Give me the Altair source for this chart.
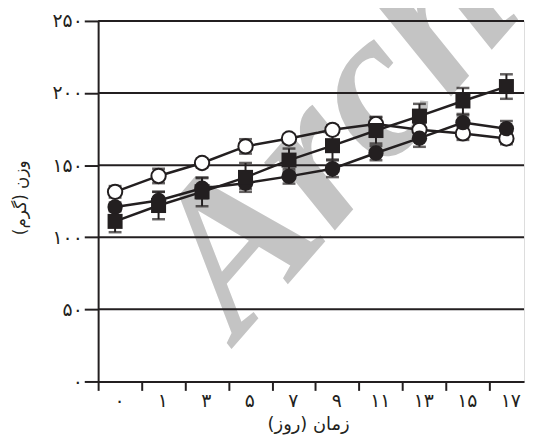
import json
import altair as alt
import pandas as pd

# ---------------- data ----------------
day_labels = ["۰", "۱", "۳", "۵", "۷", "۹", "۱۱", "۱۳", "۱۵", "۱۷"]
y_tick_values = [0, 50, 100, 150, 200, 250]
y_tick_labels = ["۰", "۵۰", "۱۰۰", "۱۵۰", "۲۰۰", "۲۵۰"]

open_mean = [131.5, 142.5, 151.5, 163.0, 168.5, 174.5, 178.5, 174.5, 172.0, 168.5]
open_err = [4.0, 5.0, 3.0, 5.0, 3.0, 3.0, 5.0, 4.0, 4.5, 4.0]

filled_mean = [121.0, 125.5, 134.0, 137.5, 142.2, 147.5, 158.4, 168.7, 179.5, 175.3]
filled_err = [3.0, 6.0, 7.0, 4.0, 5.0, 5.8, 5.0, 6.0, 5.0, 5.3]

square_mean = [111.0, 122.0, 131.5, 141.5, 153.5, 163.5, 174.0, 184.0, 194.5, 204.5]
square_err = [7.5, 9.5, 10.0, 10.0, 8.0, 9.6, 9.0, 8.5, 9.0, 8.5]

rows = []
for name, means, errs in [("open", open_mean, open_err),
                          ("filled", filled_mean, filled_err),
                          ("square", square_mean, square_err)]:
    for i, (m, e) in enumerate(zip(means, errs)):
        rows.append({"series": name, "idx": i, "mean": m, "lo": m - e, "hi": m + e})
df = pd.DataFrame(rows)

grid_df = pd.DataFrame({"g": [v for v in y_tick_values if v > 0]})

# ---------------- styling ----------------
INK = "#231f20"
FONT = "DejaVu Sans"
TICK_OFFSET = 0.39
X_MIN, X_MAX = -TICK_OFFSET, 9.405
x_tick_values = [round(i - TICK_OFFSET, 3) for i in range(len(day_labels))]

x_scale = alt.Scale(domain=[X_MIN, X_MAX], nice=False, zero=False)
y_scale = alt.Scale(domain=[0, 250], nice=False, zero=False)

x_label_expr = (f"{json.dumps(day_labels, ensure_ascii=False)}"
                f"[indexof({json.dumps(x_tick_values)}, datum.value)]")
y_label_expr = (f"{json.dumps(y_tick_labels, ensure_ascii=False)}"
                f"[indexof({json.dumps(y_tick_values)}, datum.value)]")

RLM = "\u200f"

x_axis = alt.Axis(values=x_tick_values, labelExpr=x_label_expr, grid=False,
                  domainColor=INK, domainWidth=2, tickColor=INK, tickWidth=2,
                  tickSize=9, labelFont=FONT, labelFontSize=19, labelColor=INK,
                  labelPadding=1, labelOffset=21, labelAlign="center",
                  title="زمان (روز)" + RLM, titleFont=FONT, titleFontSize=18,
                  titleFontWeight="normal", titleColor=INK, titleX=212,
                  titleY=35, titleBaseline="top")

y_axis = alt.Axis(values=y_tick_values, labelExpr=y_label_expr, grid=False,
                  domainColor=INK, domainWidth=2, tickColor=INK, tickWidth=2,
                  tickSize=14, labelFont=FONT, labelFontSize=19, labelColor=INK,
                  labelPadding=2, title="وزن (گرم)" + RLM, titleFont=FONT,
                  titleFontSize=17, titleFontWeight="normal", titleColor=INK,
                  titleX=-78, titleY=178, titleAngle=270, titleBaseline="middle",
                  titleAlign="center")

X = alt.X("idx:Q", scale=x_scale, axis=x_axis)
Y = alt.Y("mean:Q", scale=y_scale, axis=y_axis)

base = alt.Chart(df)

watermark = alt.Chart(pd.DataFrame({"t": ["Archive"]})).mark_text(
    font="Liberation Serif", fontSize=215, fontStyle="italic", fontWeight="bold",
    color="#c4c4c4", angle=311, align="left", baseline="alphabetic"
).encode(text="t:N", x=alt.value(142), y=alt.value(323))

grid = alt.Chart(grid_df).mark_rule(color=INK, strokeWidth=2).encode(
    y=alt.Y("g:Q", scale=y_scale, axis=y_axis))

lines = base.mark_line(color=INK, strokeWidth=2.5).encode(
    x=X, y=Y, detail="series:N")

stems = base.mark_rule(color=INK, strokeWidth=2).encode(
    x=X, y=alt.Y("lo:Q", scale=y_scale, axis=y_axis), y2="hi:Q")
cap_hi = base.mark_tick(color=INK, orient="horizontal", size=13, thickness=2.5).encode(
    x=X, y=alt.Y("hi:Q", scale=y_scale, axis=y_axis))
cap_lo = base.mark_tick(color=INK, orient="horizontal", size=13, thickness=2.5).encode(
    x=X, y=alt.Y("lo:Q", scale=y_scale, axis=y_axis))

open_pts = base.transform_filter(alt.datum.series == "open").mark_point(
    shape="circle", filled=True, fill="white", stroke=INK, strokeWidth=2,
    size=210, opacity=1).encode(x=X, y=Y)
filled_pts = base.transform_filter(alt.datum.series == "filled").mark_point(
    shape="circle", filled=True, color=INK, size=240, opacity=1).encode(x=X, y=Y)
square_pts = base.transform_filter(alt.datum.series == "square").mark_point(
    shape="square", filled=True, color=INK, size=230, opacity=1).encode(x=X, y=Y)

chart = alt.layer(
    watermark, grid, lines, stems, cap_hi, cap_lo, open_pts, filled_pts, square_pts
).properties(
    width=430, height=364,
    autosize=alt.AutoSizeParams(type="none"),
    padding={"left": 91, "top": 11, "right": 2, "bottom": 52},
).configure_view(stroke=INK, strokeWidth=2).configure(background="white")

chart.save("out.html", embed_options={"renderer": "svg", "actions": False})
